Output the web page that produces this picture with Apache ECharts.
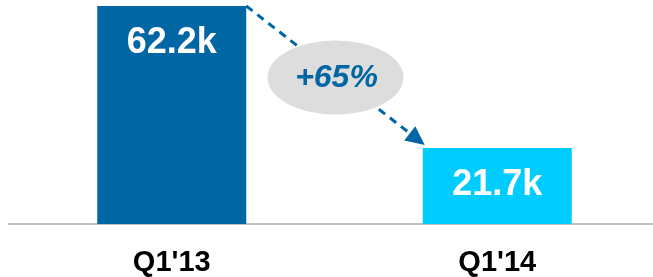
<!DOCTYPE html>
<html>
<head>
<meta charset="utf-8">
<script src="https://cdn.jsdelivr.net/npm/echarts@6/dist/echarts.min.js"></script>
<style>
  html, body { margin: 0; padding: 0; background: #fff; overflow: hidden; }
  #chart { width: 660px; height: 277px; }
</style>
</head>
<body>
<div id="chart"></div>
<script>
    // data
    var categories = ["Q1'13", "Q1'14"];
    var values = [62.2, 21.7];
    var barColors = ['#0066a4', '#00ccff'];
    var changeLabel = '+65%';

    var barWidth = 149;
    var myChart = echarts.init(document.getElementById('chart'));

    // the axis line runs off the right edge of the picture, so the chart is a bit wider than the window
    var option = {
        animation: false,
        grid: { left: 9, right: 0, top: 6, bottom: 53 },
        xAxis: {
            type: 'category',
            data: categories,
            axisLine: { show: true, lineStyle: { color: '#c0c0c0', width: 2 } },
            axisTick: { show: false },
            axisLabel: {
                color: '#000',
                fontFamily: 'Liberation Sans',
                fontWeight: 'bold',
                fontSize: 29,
                margin: 24
            }
        },
        yAxis: {
            type: 'value',
            min: 0,
            max: values[0],
            show: false,
            splitLine: { show: false }
        },
        series: [{
            type: 'bar',
            barWidth: barWidth,
            data: values.map(function (v, i) {
                return { value: v, itemStyle: { color: barColors[i] } };
            }),
            label: {
                show: true,
                position: 'insideTop',
                distance: 19,
                color: '#fff',
                fontFamily: 'Liberation Sans',
                fontWeight: 'bold',
                fontSize: 36,
                formatter: function (p) { return p.value.toFixed(1) + 'k'; }
            }
        }]
    };
    myChart.setOption(option);

    // arrow from top-right of first bar to top-left of second bar
    var p0 = myChart.convertToPixel({ seriesIndex: 0 }, [0, values[0]]);
    var p1 = myChart.convertToPixel({ seriesIndex: 0 }, [1, values[1]]);
    var x0 = p0[0] + barWidth / 2, y0 = p0[1];
    var x1 = p1[0] - barWidth / 2 + 2, y1 = p1[1] - 3;
    var ang = Math.atan2(y1 - y0, x1 - x0);
    var headLen = 19, headHalf = 9;
    var bx = x1 - headLen * Math.cos(ang), by = y1 - headLen * Math.sin(ang);
    var nx = -Math.sin(ang), ny = Math.cos(ang);
    var mx = (x0 + x1) / 2, my = (y0 + y1) / 2;

    myChart.setOption({
        graphic: [
            {
                type: 'line',
                shape: { x1: x0, y1: y0, x2: bx, y2: by },
                style: { stroke: '#0066a4', lineWidth: 3, lineDash: [8, 6] },
                z: 10
            },
            {
                type: 'polygon',
                shape: { points: [[x1, y1], [bx + nx * headHalf, by + ny * headHalf], [bx - nx * headHalf, by - ny * headHalf]] },
                style: { fill: '#0066a4' },
                z: 10
            },
            {
                type: 'circle',
                x: mx, y: my + 2,
                scaleX: 68 / 37,
                shape: { cx: 0, cy: 0, r: 37 },
                style: { fill: '#dddddd' },
                z: 11
            },
            {
                type: 'text',
                x: mx + 1, y: my + 3,
                style: {
                    text: changeLabel,
                    fill: '#0066a4',
                    fontFamily: 'Liberation Sans',
                    fontWeight: 'bold',
                    fontStyle: 'italic',
                    fontSize: 32,
                    align: 'center',
                    verticalAlign: 'middle'
                },
                z: 12
            }
        ]
    });
</script>
</body>
</html>
